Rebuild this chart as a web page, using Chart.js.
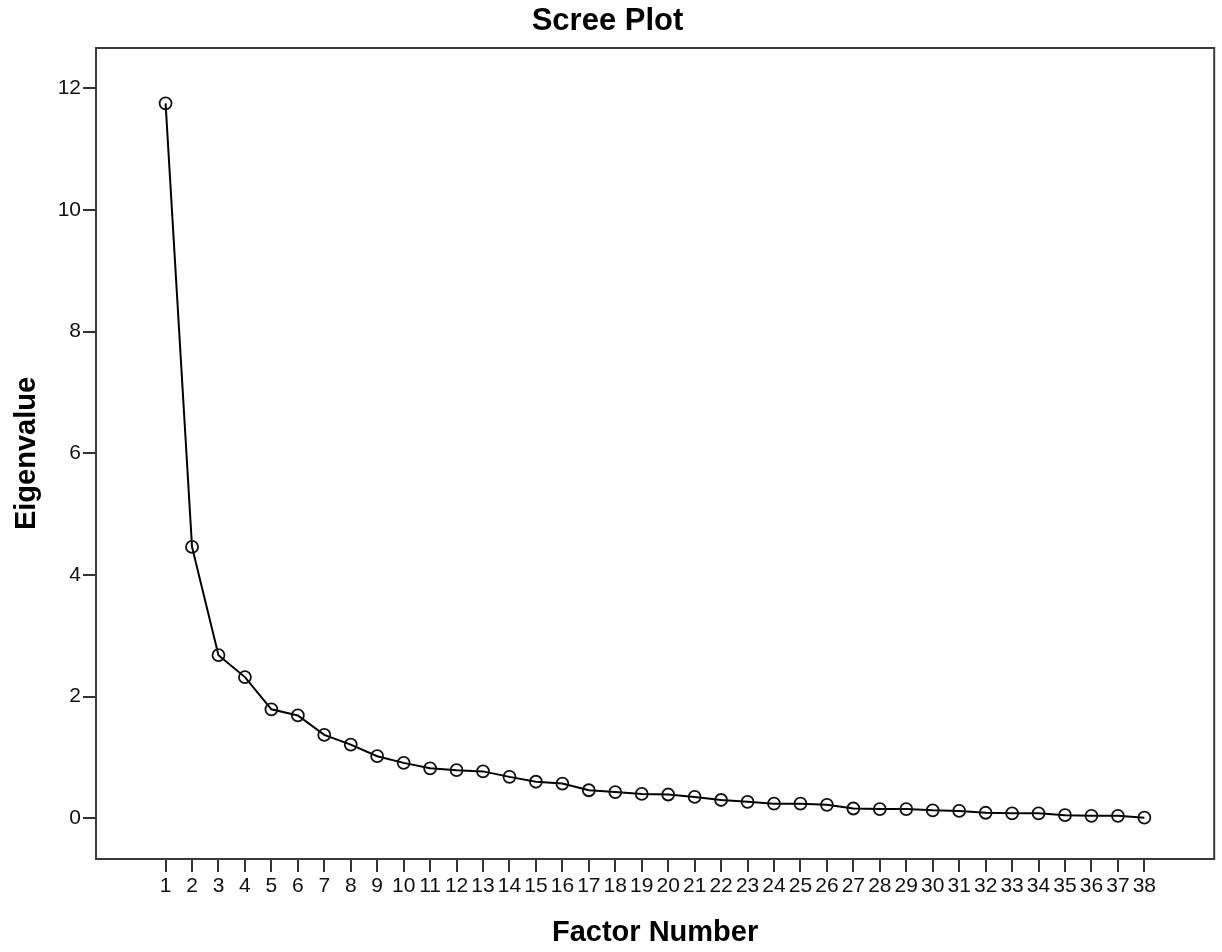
<!DOCTYPE html>
<html>
<head>
<meta charset="utf-8">
<script src="https://cdn.jsdelivr.net/npm/chart.js@4.4.1/dist/chart.umd.min.js"></script>
<style>
  html, body { margin: 0; padding: 0; background: #ffffff; }
  #wrap { width: 1222px; height: 952px; position: relative; }
</style>
</head>
<body>
<div id="wrap"><canvas id="c"></canvas></div>
<script>
// ---- data ----
const factorNumbers = [1,2,3,4,5,6,7,8,9,10,11,12,13,14,15,16,17,18,19,20,21,22,23,24,25,26,27,28,29,30,31,32,33,34,35,36,37,38];
const eigenvalues = [11.75,4.46,2.68,2.32,1.79,1.69,1.37,1.21,1.02,0.91,0.82,0.79,0.77,0.68,0.60,0.57,0.46,0.43,0.40,0.39,0.35,0.30,0.27,0.24,0.24,0.22,0.16,0.15,0.15,0.13,0.12,0.09,0.08,0.08,0.05,0.04,0.04,0.01];
const yTickValues = [0,2,4,6,8,10,12];
const chartTitle = 'Scree Plot';
const xTitle = 'Factor Number';
const yTitle = 'Eigenvalue';

const points = factorNumbers.map((f, i) => ({ x: f, y: eigenvalues[i] }));

const frame = {
  id: 'frame',
  afterDraw(chart) {
    const a = chart.chartArea, ctx = chart.ctx;
    ctx.save();
    ctx.strokeStyle = '#3a3a3a';
    ctx.lineWidth = 2;
    ctx.strokeRect(a.left, a.top, a.right - a.left, a.bottom - a.top);
    ctx.restore();
  }
};

const FONT = "'Liberation Sans', Arial, sans-serif";

new Chart(document.getElementById('c'), {
  type: 'line',
  data: {
    datasets: [{
      data: points,
      borderColor: '#000',
      borderWidth: 2,
      pointRadius: 6,
      pointHoverRadius: 6,
      pointBorderWidth: 1.8,
      pointBorderColor: '#111',
      pointBackgroundColor: 'rgba(0,0,0,0)',
      tension: 0,
      fill: false
    }]
  },
  options: {
    responsive: true,
    maintainAspectRatio: false,
    animation: false,
    layout: { padding: { left: 0, right: 7, top: 0, bottom: 0 } },
    plugins: {
      legend: { display: false },
      tooltip: { enabled: false },
      title: {
        display: true,
        text: chartTitle,
        color: '#000',
        font: { family: FONT, size: 31, weight: 'bold', lineHeight: 1.2 },
        padding: { top: 2.4, bottom: 8.4 }
      }
    },
    scales: {
      x: {
        type: 'linear',
        min: -1.63,
        max: 40.64,
        afterBuildTicks: s => { s.ticks = factorNumbers.map(v => ({ value: v })); },
        afterFit: s => { s.height = 93; },
        ticks: {
          autoSkip: false,
          maxRotation: 0,
          minRotation: 0,
          padding: 2,
          color: '#111',
          font: { family: FONT, size: 21 },
          callback: v => String(v)
        },
        grid: { display: true, drawOnChartArea: false, drawTicks: true, tickLength: 13, color: '#333', lineWidth: 2 },
        border: { display: true, color: '#3a3a3a', width: 2 },
        title: {
          display: true,
          text: xTitle,
          color: '#000',
          font: { family: FONT, size: 29, weight: 'bold', lineHeight: 1.2 },
          padding: { top: 0, bottom: 1.6 }
        }
      },
      y: {
        type: 'linear',
        min: -0.67,
        max: 12.66,
        afterBuildTicks: s => { s.ticks = yTickValues.map(v => ({ value: v })); },
        afterFit: s => { s.width = 96; },
        ticks: {
          padding: 2,
          color: '#111',
          font: { family: FONT, size: 21 },
          callback: v => String(v)
        },
        grid: { display: true, drawOnChartArea: false, drawTicks: true, tickLength: 13, color: '#333', lineWidth: 2 },
        border: { display: true, color: '#3a3a3a', width: 2 },
        title: {
          display: true,
          text: yTitle,
          color: '#000',
          font: { family: FONT, size: 29, weight: 'bold', lineHeight: 1.2 },
          padding: { top: 9.6, bottom: 0 }
        }
      }
    }
  },
  plugins: [frame]
});
</script>
</body>
</html>
